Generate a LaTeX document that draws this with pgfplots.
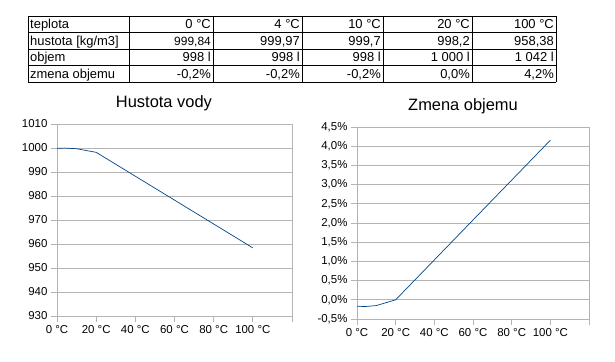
\documentclass[border=0pt]{standalone}
\usepackage{fontspec}
\setmainfont{Liberation Sans}
\usepackage{pgfplots}
\pgfplotsset{compat=1.18}
\definecolor{gridgray}{HTML}{B3B3B3}
\definecolor{series}{HTML}{004586}
\begin{document}
\begin{tikzpicture}
\useasboundingbox (0,0) rectangle (615bp,-362bp);
% ---------- table ----------
\begin{scope}[line width=0.9bp, black]
\foreach \yy in {16,32.5,49,65.5,82} {\draw (28bp,-\yy bp) -- (556bp,-\yy bp);}
\foreach \xx in {28,129,213,302,383,472,556} {\draw (\xx bp,-16bp) -- (\xx bp,-82bp);}
\end{scope}
\tikzset{tl/.style={anchor=base west, inner sep=0pt, font=\fontsize{13}{14}\selectfont},
         tr/.style={anchor=base east, inner sep=0pt, font=\fontsize{13}{14}\selectfont}}
% row 1
\node[tl] at (30bp,-28.8bp) {teplota};
\node[tr] at (211bp,-28.8bp) {0 °C};
\node[tr] at (300bp,-28.8bp) {4 °C};
\node[tr] at (381bp,-28.8bp) {10 °C};
\node[tr] at (470bp,-28.8bp) {20 °C};
\node[tr] at (554bp,-28.8bp) {100 °C};
% row 2
\node[tl] at (30bp,-45.3bp) {hustota [kg/m3]};
\node[tr,font=\fontsize{12}{13}\selectfont] at (211bp,-45.3bp) {999,84};
\node[tr] at (300bp,-45.3bp) {999,97};
\node[tr] at (381bp,-45.3bp) {999,7};
\node[tr] at (470bp,-45.3bp) {998,2};
\node[tr] at (554bp,-45.3bp) {958,38};
% row 3
\node[tl] at (30bp,-61.8bp) {objem};
\node[tr] at (211bp,-61.8bp) {998 l};
\node[tr] at (300bp,-61.8bp) {998 l};
\node[tr] at (381bp,-61.8bp) {998 l};
\node[tr] at (470bp,-61.8bp) {1 000 l};
\node[tr] at (554bp,-61.8bp) {1 042 l};
% row 4
\node[tl] at (30bp,-78.3bp) {zmena objemu};
\node[tr] at (211bp,-78.3bp) {-0,2\%};
\node[tr] at (300bp,-78.3bp) {-0,2\%};
\node[tr] at (381bp,-78.3bp) {-0,2\%};
\node[tr] at (470bp,-78.3bp) {0,0\%};
\node[tr] at (554bp,-78.3bp) {4,2\%};
% ---------- shared style ----------
\pgfplotsset{lostyle/.style={
  scale only axis,
  anchor=south west,
  ymajorgrids,
  grid style={color=gridgray, line width=0.8bp},
  axis line style={gridgray, line width=0.8bp},
  tick style={gridgray, line width=0.8bp},
  tick align=outside,
  major tick length=6bp,
  tick pos=left,
  ticklabel style={font=\fontsize{11.5}{12}\selectfont, black},
  title style={font=\fontsize{16.5}{18}\selectfont, anchor=center, yshift=15bp},
  clip=false,
}}
% ---------- left chart ----------
\begin{axis}[lostyle,
  at={(57bp,-316bp)}, width=235bp, height=192bp,
  xmin=0, xmax=120, ymin=930, ymax=1010,
  xtick={0,20,40,60,80,100,120},
  xticklabels={0 °C,20 °C,40 °C,60 °C,80 °C,100 °C,},
  ytick={930,940,950,960,970,980,990,1000,1010},
  yticklabels={930,940,950,960,970,980,990,1000,1010},
  title={Hustota vody},
  title style={at={(0.455,1)}},
]
\addplot[series, line width=0.7bp] coordinates {(0,999.84) (4,999.97) (10,999.7) (20,998.2) (100,958.38)};
\end{axis}
% ---------- right chart ----------
\begin{axis}[lostyle,
  at={(357bp,-319bp)}, width=232bp, height=192bp,
  xmin=0, xmax=120, ymin=-0.5, ymax=4.5,
  xtick={0,20,40,60,80,100,120},
  xticklabels={0 °C,20 °C,40 °C,60 °C,80 °C,100 °C,},
  ytick={-0.5,0,0.5,1,1.5,2,2.5,3,3.5,4,4.5},
  yticklabels={{-0,5\%},{0,0\%},{0,5\%},{1,0\%},{1,5\%},{2,0\%},{2,5\%},{3,0\%},{3,5\%},{4,0\%},{4,5\%}},
  title={Zmena objemu},
  title style={at={(0.457,1)}},
]
\addplot[series, line width=0.7bp] coordinates {(0,-0.164) (4,-0.177) (10,-0.150) (20,0) (100,4.155)};
\end{axis}
\end{tikzpicture}
\end{document}
